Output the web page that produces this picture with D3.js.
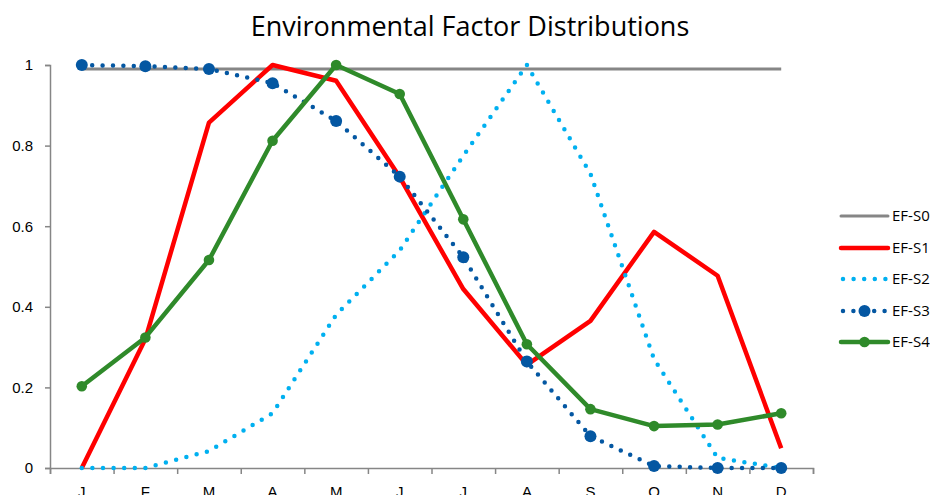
<!DOCTYPE html>
<html>
<head>
<meta charset="utf-8">
<script src="https://cdn.jsdelivr.net/npm/d3@7"></script>
<style>
  body { margin: 0; background: #fff; }
  svg { display: block; font-family: "Open Sans", sans-serif; }
</style>
</head>
<body>
<svg id="chart"></svg>
<script>
// data
var months = ["J", "F", "M", "A", "M", "J", "J", "A", "S", "O", "N", "D"];
var yTicks = [0, 0.2, 0.4, 0.6, 0.8, 1];

var efS0 = [0.99, 0.99, 0.99, 0.99, 0.99, 0.99, 0.99, 0.99, 0.99, 0.99, 0.99, 0.99];
var efS1 = [0, 0.32, 0.857, 1.0, 0.961, 0.722, 0.444, 0.256, 0.365, 0.586, 0.477, 0.049];
var efS2 = [0, 0, 0.042, 0.136, 0.38, 0.54, 0.775, 1.0, 0.73, 0.27, 0.025, 0];
var efS3 = [1.0, 0.997, 0.99, 0.955, 0.861, 0.723, 0.523, 0.264, 0.079, 0.005, 0, 0];
var efS4 = [0.203, 0.324, 0.516, 0.812, 1.0, 0.928, 0.617, 0.307, 0.146, 0.104, 0.108, 0.136];

var seriesNames = ["EF-S0", "EF-S1", "EF-S2", "EF-S3", "EF-S4"];

var width = 930, height = 495;
var svg = d3.select("#chart").attr("width", width).attr("height", height);

var plotLeft = 50, plotRight = 813, plotTop = 65, plotBottom = 468;

var x = d3.scaleBand().domain(d3.range(months.length)).range([plotLeft, plotRight]);
var xEdge = d3.scaleLinear().domain([0, months.length]).range([plotLeft, plotRight]);
var y = d3.scaleLinear().domain([0, 1]).range([plotBottom, plotTop]);

// styles per series
var styles = [
  { data: efS0, color: "#868686", w: 3,   dash: null,      marker: 0 },
  { data: efS1, color: "#ff0000", w: 4.5, dash: null,      marker: 0 },
  { data: efS2, color: "#00b0f0", w: 4.5, dash: "0 10.6",  marker: 0 },
  { data: efS3, color: "#0457a2", w: 4.5, dash: "0 10.4",  marker: 6 },
  { data: efS4, color: "#2f8a2a", w: 4.5, dash: null,      marker: 5.3 }
];

// title
svg.append("text")
  .attr("x", 470).attr("y", 36)
  .attr("text-anchor", "middle")
  .style("font-size", "27px")
  .attr("fill", "#000")
  .text("Environmental Factor Distributions");

// y axis
var yAxis = svg.append("g")
  .attr("transform", "translate(" + plotLeft + ",0)")
  .call(d3.axisLeft(y).tickValues(yTicks).tickSize(5).tickPadding(12)
    .tickFormat(function(d) { return d3.format("")(d); }));
yAxis.select(".domain").attr("stroke", "#868686").attr("stroke-width", 1.5);
yAxis.selectAll(".tick line").attr("stroke", "#868686").attr("stroke-width", 1.5);
yAxis.selectAll("text").style("font-size", "15px").attr("fill", "#000");

// x axis: ticks between categories
var xAxis = svg.append("g")
  .attr("transform", "translate(0," + plotBottom + ")")
  .call(d3.axisBottom(xEdge).ticks(12).tickSize(6).tickFormat(""));
xAxis.select(".domain").attr("stroke", "#868686").attr("stroke-width", 1.5);
xAxis.selectAll(".tick line").attr("stroke", "#868686").attr("stroke-width", 1.5);

// x labels at category centres
var xLabels = svg.append("g")
  .attr("transform", "translate(0," + plotBottom + ")")
  .call(d3.axisBottom(x).tickSize(0).tickPadding(18)
    .tickFormat(function(i) { return months[i]; }));
xLabels.select(".domain").remove();
xLabels.selectAll("text").style("font-size", "15px").attr("fill", "#000");

var line = d3.line()
  .x(function(d, i) { return x(i) + x.bandwidth() / 2; })
  .y(function(d) { return y(d); });

styles.forEach(function(s) {
  svg.append("path")
    .datum(s.data)
    .attr("d", line)
    .attr("fill", "none")
    .attr("stroke", s.color)
    .attr("stroke-width", s.w)
    .attr("stroke-linecap", s.dash ? "round" : "butt")
    .attr("stroke-linejoin", "round")
    .attr("stroke-dasharray", s.dash);

  if (s.marker) {
    svg.append("g").selectAll("circle")
      .data(s.data)
      .enter()
      .append("circle")
      .attr("cx", function(d, i) { return x(i) + x.bandwidth() / 2; })
      .attr("cy", function(d) { return y(d); })
      .attr("r", s.marker)
      .attr("fill", s.color);
  }
});

// legend
var legendY = [216, 248, 279, 311, 342];
var legend = svg.append("g");
styles.forEach(function(s, i) {
  var g = legend.append("g").attr("transform", "translate(0," + legendY[i] + ")");
  g.append("line")
    .attr("x1", s.dash ? 843 : 841).attr("x2", s.dash ? 887 : 888)
    .attr("y1", 0).attr("y2", 0)
    .attr("stroke", s.color)
    .attr("stroke-width", s.w)
    .attr("stroke-linecap", "round")
    .attr("stroke-dasharray", s.dash);
  if (s.marker) {
    g.append("circle").attr("cx", 864.5).attr("cy", 0).attr("r", s.marker).attr("fill", s.color);
  }
  g.append("text")
    .attr("x", 892).attr("y", 0).attr("dy", "0.35em")
    .style("font-size", "15px")
    .attr("fill", "#000")
    .text(seriesNames[i]);
});
</script>
</body>
</html>
